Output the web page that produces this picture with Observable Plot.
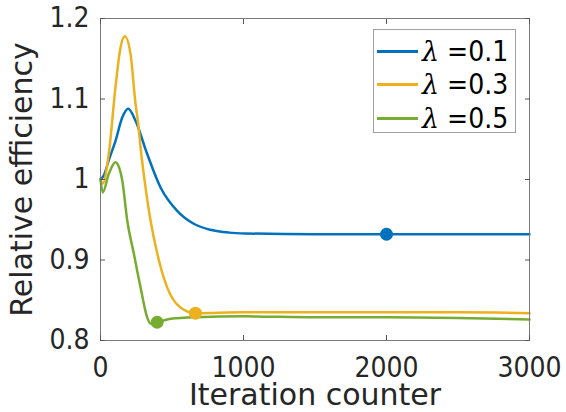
<!DOCTYPE html>
<html>
<head>
<meta charset="utf-8">
<script src="https://cdn.jsdelivr.net/npm/d3@7"></script>
<script src="https://cdn.jsdelivr.net/npm/@observablehq/plot@0.6"></script>
<style>
  html, body { margin: 0; padding: 0; background: #fff; }
  #wrap { position: relative; width: 566px; height: 412px; }
  #legend { position: absolute; left: 373px; top: 29px; width: 143px; height: 104px;
    border: 1px solid #a0a0a0; background: #fff; box-sizing: border-box;
    font-family: "DejaVu Sans Condensed", "DejaVu Sans", sans-serif; font-size: 28px; color: #000; }
  .item { position: absolute; left: 3px; height: 30px; display: flex; align-items: center; white-space: pre; }
  .sw { width: 41px; height: 3px; margin-right: 4px; }
  .lam { font-family: "DejaVu Serif", serif; font-style: italic; font-size: 27px; }
</style>
</head>
<body>
<div id="wrap"><div id="legend"></div></div>
<script>
const seriesNames = ["λ =0.1", "λ =0.3", "λ =0.5"];
const seriesColors = ["#0072BD", "#EDB120", "#77AC30"];

const blueX = [0, 23, 58, 105, 152, 194, 245, 326, 420, 536, 652, 769, 900, 1014, 1500, 2000, 2500, 3000];
const blueY = [1.000, 1.005, 1.024, 1.048, 1.077, 1.088, 1.073, 1.032, 0.990, 0.961, 0.945, 0.9375, 0.934, 0.933, 0.932, 0.932, 0.932, 0.932];

const orangeX = [0, 16, 58, 105, 140, 170, 210, 245, 261, 285, 315, 350, 397, 466, 559, 664, 1000, 1500, 2000, 2500, 3000];
const orangeY = [1.000, 0.995, 1.032, 1.115, 1.164, 1.178, 1.156, 1.094, 1.073, 1.032, 0.990, 0.949, 0.908, 0.866, 0.841, 0.834, 0.835, 0.835, 0.835, 0.835, 0.834];

const greenX = [0, 16, 58, 105, 130, 152, 187, 233, 280, 326, 350, 396, 490, 664, 1000, 1500, 2000, 2500, 3000];
const greenY = [1.000, 0.984, 1.007, 1.0215, 1.015, 0.999, 0.949, 0.908, 0.866, 0.829, 0.821, 0.8227, 0.827, 0.829, 0.830, 0.829, 0.829, 0.828, 0.826];

const markerX = [2000, 664, 396];
const markerY = [0.932, 0.834, 0.8227];

const xTicks = [0, 1000, 2000, 3000];
const yTicks = [0.8, 0.9, 1, 1.1, 1.2];
const xLabel = "Iteration counter";
const yLabel = "Relative efficiency";

const allX = [blueX, orangeX, greenX];
const allY = [blueY, orangeY, greenY];
const data = [];
allX.forEach((xs, s) => xs.forEach((x, i) => data.push({series: seriesNames[s], x, y: allY[s][i]})));
const markers = markerX.map((x, i) => ({series: seriesNames[i], x, y: markerY[i]}));

const axisColor = "#262626";
const fontTick = "DejaVu Sans Condensed, DejaVu Sans, sans-serif";
const fontLabel = "DejaVu Sans, sans-serif";

const plot = Plot.plot({
  width: 566,
  height: 412,
  marginLeft: 100,
  marginRight: 37,
  marginTop: 18,
  marginBottom: 72,
  style: { fontFamily: fontTick, fontSize: "28px", color: axisColor, background: "#fff", overflow: "visible" },
  x: { domain: [0, 3000] },
  y: { domain: [0.8, 1.2] },
  color: { domain: seriesNames, range: seriesColors },
  marks: [
    Plot.line(data, { x: "x", y: "y", stroke: "series", strokeWidth: 2.5, curve: "monotone-x" }),
    Plot.dot(markers, { x: "x", y: "y", fill: "series", r: 6.5 }),
    Plot.frame({ stroke: "#7a7a7a", strokeWidth: 1 }),
    Plot.axisX(xTicks, { anchor: "bottom", tickSize: 0, tickPadding: 17, fontSize: 28, fill: axisColor,
      tickFormat: d => String(d), label: null }),
    Plot.axisX(xTicks, { anchor: "bottom", tickSize: -5, tickFormat: () => "", label: null, stroke: "#555" }),
    Plot.axisX(xTicks, { anchor: "top", tickSize: -5, tickFormat: () => "", label: null, stroke: "#555" }),
    Plot.axisY(yTicks, { anchor: "left", tickSize: 0, tickPadding: 11, fontSize: 28, fill: axisColor,
      tickFormat: d => String(d), label: null }),
    Plot.axisY(yTicks, { anchor: "left", tickSize: -5, tickFormat: () => "", label: null, stroke: "#555" }),
    Plot.axisY(yTicks, { anchor: "right", tickSize: -5, tickFormat: () => "", label: null, stroke: "#555" }),
    Plot.text([xLabel], { text: d => d, frameAnchor: "bottom", textAnchor: "middle", dy: 55, fontSize: 30,
      fill: axisColor, lineAnchor: "middle", fontFamily: fontLabel }),
    Plot.text([yLabel], { text: d => d, frameAnchor: "left", textAnchor: "middle", dx: -78, rotate: -90,
      fontSize: 30, fill: axisColor, lineAnchor: "middle", fontFamily: fontLabel })
  ]
});
document.getElementById("wrap").prepend(plot);

const legend = document.getElementById("legend");
seriesNames.forEach((name, i) => {
  const item = document.createElement("div");
  item.className = "item";
  item.style.top = (6 + i * 33.5) + "px";
  const sw = document.createElement("div");
  sw.className = "sw";
  sw.style.background = seriesColors[i];
  const lam = document.createElement("span");
  lam.className = "lam";
  lam.textContent = name.slice(0, 1);
  const t = document.createElement("span");
  t.textContent = name.slice(1);
  item.append(sw, lam, t);
  legend.append(item);
});
</script>
</body>
</html>
